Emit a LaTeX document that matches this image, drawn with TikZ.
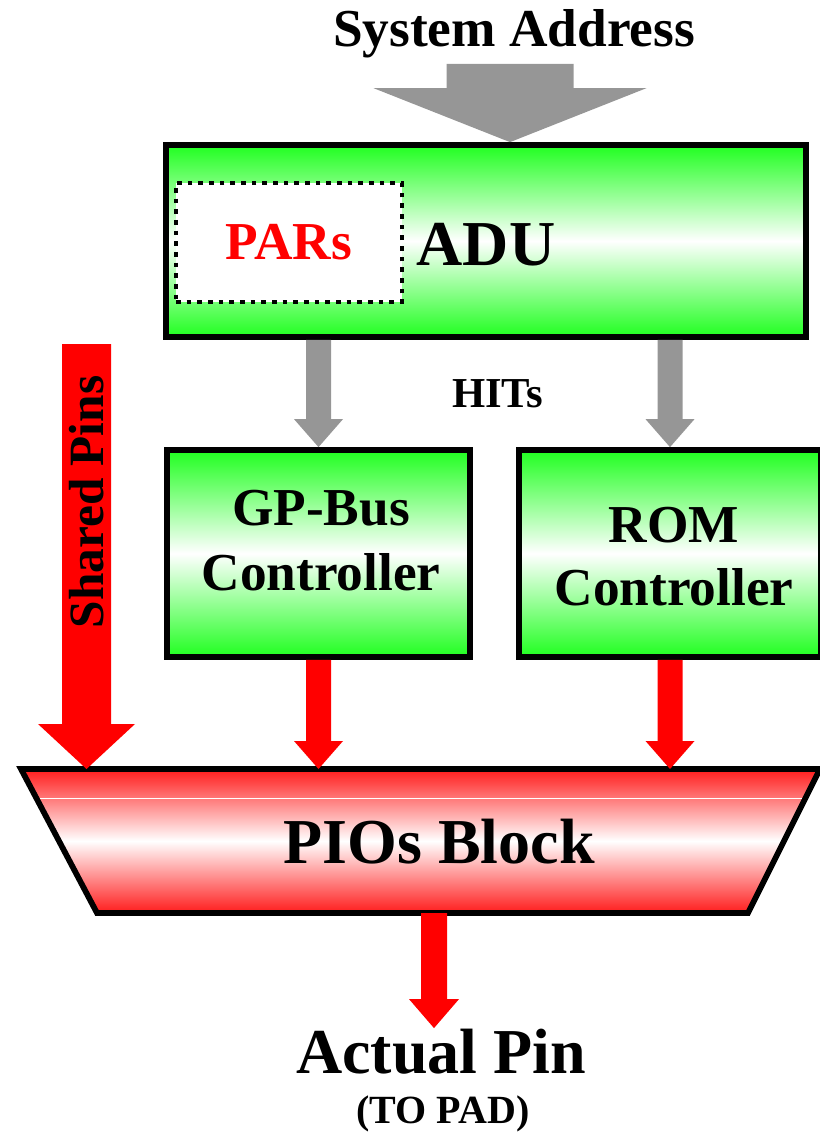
\documentclass[tikz,border=0pt]{standalone}
\usepackage{fontspec}
\setmainfont{Liberation Serif}
\usetikzlibrary{calc}

\definecolor{boxgreen}{RGB}{32,255,32}
\definecolor{piored}{RGB}{255,28,28}
\definecolor{pinred}{RGB}{255,0,0}
\definecolor{hitgray}{RGB}{150,150,150}

\tikzset{every picture/.style={line width=0.75pt}}

% fat arrow pointing down: from, tip, shaft half width, head half width, head length, colour
\newcommand{\blockarrow}[6]{%
	\fill[#6] ($(#1)+(-#3,0)$) -- ($(#1)+(#3,0)$) -- ($(#2)+(#3,-#5)$) -- ($(#2)+(#4,-#5)$) -- (#2) -- ($(#2)+(-#4,-#5)$) -- ($(#2)+(-#3,-#5)$) -- cycle ;}

\begin{document}
\begin{tikzpicture}[x=0.75pt,y=0.75pt,yscale=-1,xscale=1,
	greenbox/.style={draw=black, line width=4.3pt, top color=boxgreen, bottom color=boxgreen, middle color=white, inner sep=0pt},
	parbox/.style={draw=black, fill=white, line width=3.4pt, dash pattern=on 3.6pt off 4.4pt, inner sep=0pt, minimum width=169.5pt, minimum height=89.25pt},
	lbl/.style={inner sep=0pt, anchor=base}]
	\useasboundingbox (0,0) rectangle (820,1134);

	% Text Node
	\node[lbl, font=\bfseries\fontsize{40}{48}\selectfont] (sysaddr) at (514,47) {System Address};
	\coordinate (addrin) at (510,64);

	%Shape: Rectangle
	\node[greenbox, minimum width=480pt, minimum height=144pt] (adu) at (486,241) {};
	%Shape: Rectangle
	\node[parbox, text=pinred, font=\bfseries\fontsize{40}{48}\selectfont] (pars) at (289,242.5) {PARs};
	% Text Node
	\node[lbl, font=\bfseries\fontsize{48}{58}\selectfont] (adutxt) at (486,265) {ADU};

	% Text Node
	\node[lbl, font=\bfseries\fontsize{32}{38}\selectfont] (hits) at (497.5,407) {HITs};

	%Shape: Rectangle
	\node[greenbox, minimum width=227.25pt, minimum height=155.25pt] (gpbus) at (318.5,553.5) {};
	\node[inner sep=0pt, align=center, font=\bfseries\fontsize{40}{48.5}\selectfont] (gpbustxt) at (321,540.5) {GP-Bus\\Controller};
	%Shape: Rectangle
	\node[greenbox, minimum width=226.5pt, minimum height=155.25pt] (romctl) at (670,553.5) {};
	\node[inner sep=0pt, align=center, font=\bfseries\fontsize{40}{47.5}\selectfont] (romtxt) at (674,556.5) {ROM\\Controller};

	%Shape: Trapezoid
	\draw[line width=4.3pt, top color=piored, bottom color=piored, middle color=white] (21,769) -- (820,769) -- (748,913) -- (97,913) -- cycle ;
	\draw[white, line width=0.6pt] (40,798) -- (802,798) ;
	\coordinate (piotop) at (420,769);
	\coordinate (pioout) at (434,913);
	% Text Node
	\node[lbl, font=\bfseries\fontsize{48}{58}\selectfont] (pios) at (439,863) {PIOs Block};

	% Text Node
	\node[lbl, font=\bfseries\fontsize{48}{58}\selectfont] (actualpin) at (441,1073) {Actual Pin};
	\node[lbl, font=\bfseries\fontsize{30}{36}\selectfont] (topad) at (443,1123) {(TO PAD)};

	%Block Arrows
	\blockarrow{addrin}{addrin |- adu.north}{63.5}{136.5}{54}{hitgray}
	\blockarrow{gpbus.north |- adu.south}{gpbus.north}{12.5}{24.5}{28}{hitgray}
	\blockarrow{romctl.north |- adu.south}{romctl.north}{12.5}{24.5}{28}{hitgray}
	\blockarrow{gpbus.south}{gpbus.south |- piotop}{12.5}{24.5}{28}{pinred}
	\blockarrow{romctl.south}{romctl.south |- piotop}{12.5}{24.5}{28}{pinred}
	\coordinate (pinsin) at (86.5,344);
	\blockarrow{pinsin}{pinsin |- piotop}{24.5}{48.5}{45}{pinred}
	\blockarrow{pioout}{pioout |- actualpin.north}{13}{25}{29}{pinred}

	% Text Node
	\node[lbl, rotate=90, font=\bfseries\fontsize{37}{44}\selectfont] (sharedpins) at (103,502) {Shared Pins};

\end{tikzpicture}
\end{document}
